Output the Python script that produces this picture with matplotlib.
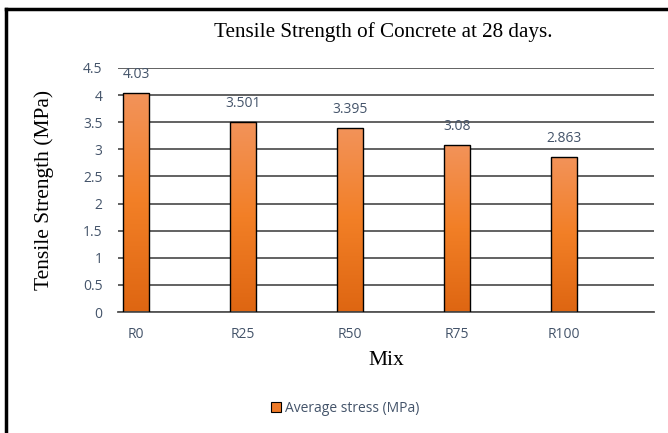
import numpy as np
import matplotlib.pyplot as plt
from matplotlib.colors import LinearSegmentedColormap
from matplotlib.patches import Rectangle

mixes = ['R0', 'R25', 'R50', 'R75', 'R100']
stress = [4.03, 3.501, 3.395, 3.08, 2.863]
stress_labels = ['4.03', '3.501', '3.395', '3.08', '2.863']
yticks = [0, 0.5, 1, 1.5, 2, 2.5, 3, 3.5, 4, 4.5]
ytick_labels = ['0', '0.5', '1', '1.5', '2', '2.5', '3', '3.5', '4', '4.5']

label_col = '#44546A'
sans = ['Open Sans', 'DejaVu Sans']
serif = ['Liberation Serif', 'DejaVu Serif']

fig = plt.figure(figsize=(6.68, 4.33), dpi=100)
ax = fig.add_axes([0.1766, 0.2794, 0.8024, 0.5636])

# outer frame (top and left only visible)
fig.add_artist(plt.Line2D([6/668, 6/668], [0, 1 - 9/433], color='black', lw=2.5))
fig.add_artist(plt.Line2D([6/668, 1], [1 - 9/433, 1 - 9/433], color='black', lw=2.5))

cmap = LinearSegmentedColormap.from_list('og', ['#DE6612', '#F27F26', '#F3935A'])
grad = np.linspace(0, 1, 256).reshape(-1, 1)

x = np.arange(len(mixes))
bars = ax.bar(x, stress, width=0.245, color='none', edgecolor='black', linewidth=1.0, zorder=3)
for b in bars:
    im = ax.imshow(grad, cmap=cmap, origin='lower', aspect='auto',
                   extent=[b.get_x(), b.get_x() + b.get_width(), 0, b.get_height()], zorder=2)
    im.set_clip_path(b)

for xi, v, s in zip(x, stress, stress_labels):
    ax.annotate(s, (xi, v), xytext=(0, 8), textcoords='offset points', ha='center', va='bottom',
                fontsize=10, color=label_col, family=sans)

ax.set_xlim(-0.168, 4.84)
ax.set_ylim(0, 4.5)
ax.set_yticks(yticks)
ax.set_yticklabels(ytick_labels, family=sans, fontsize=10, color=label_col)
ax.set_xticks(x)
ax.set_xticklabels(mixes, family=sans, fontsize=10, color=label_col)
ax.tick_params(axis='both', length=0)
ax.tick_params(axis='x', pad=11)
ax.tick_params(axis='y', pad=11)
ax.yaxis.grid(True, color='#555555', lw=1.3, zorder=1)
ax.set_axisbelow(True)
for sp in ['top', 'right', 'left']:
    ax.spines[sp].set_visible(False)
ax.spines['bottom'].set_color('#555555')
ax.spines['bottom'].set_linewidth(1.3)

ax.set_xlabel('Mix', family=serif, fontsize=15.5, labelpad=6)
ax.set_ylabel('Tensile Strength (MPa)', family=serif, fontsize=15.5)
ax.yaxis.set_label_coords(-0.12, 0.5)
fig.text(383/668, 1 - 32/433, 'Tensile Strength of Concrete at 28 days.', family=serif,
         fontsize=15.2, ha='center', va='center')

handle = Rectangle((0, 0), 1, 1, facecolor='#EF7A28', edgecolor='black', lw=0.8)
leg = fig.legend([handle], ['Average stress (MPa)'], loc='center', bbox_to_anchor=(345/668, 1 - 408/433),
                 frameon=False, prop={'family': sans, 'size': 10}, handlelength=0.7, handleheight=0.7,
                 handletextpad=0.3)
for t in leg.get_texts():
    t.set_color(label_col)

fig.savefig('out.png', dpi=100, facecolor='white')
